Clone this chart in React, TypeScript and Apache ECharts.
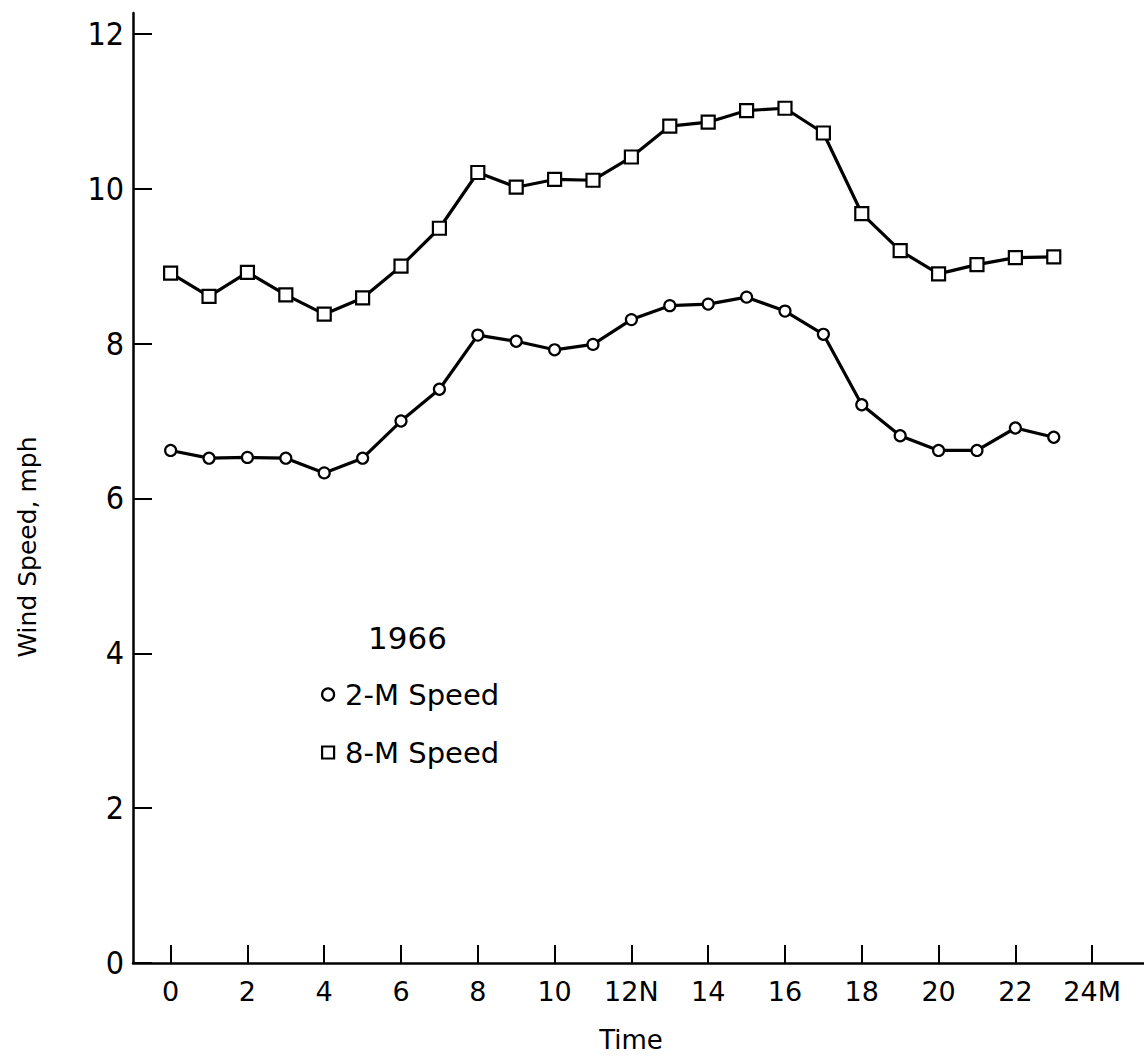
import React, { useEffect, useRef } from "react";
import * as echarts from "echarts";

const hours = [0, 1, 2, 3, 4, 5, 6, 7, 8, 9, 10, 11, 12, 13, 14, 15, 16, 17, 18, 19, 20, 21, 22, 23];
const speed2m = [6.62, 6.52, 6.53, 6.52, 6.33, 6.52, 7.0, 7.41, 8.11, 8.03, 7.92, 7.99, 8.31, 8.49, 8.51, 8.6, 8.42, 8.12, 7.21, 6.81, 6.62, 6.62, 6.91, 6.79];
const speed8m = [8.91, 8.61, 8.92, 8.63, 8.38, 8.59, 9.0, 9.49, 10.21, 10.02, 10.12, 10.11, 10.41, 10.81, 10.86, 11.01, 11.04, 10.72, 9.68, 9.2, 8.9, 9.02, 9.11, 9.12];
const xTicks = [0, 2, 4, 6, 8, 10, 12, 14, 16, 18, 20, 22, 24];
const xTickLabels: Record<number, string> = { 12: "12N", 24: "24M" };
const yTicks = [0, 2, 4, 6, 8, 10, 12];
const seriesNames = ["2-M Speed", "8-M Speed"];
const legendTitle = "1966";
const xTitle = "Time";
const yTitle = "Wind Speed, mph";

const FONT = "'DejaVu Sans', sans-serif";
const FONT_COND = "'DejaVu Sans Condensed', 'Liberation Sans Narrow', sans-serif";

export default function App() {
  const ref = useRef<HTMLDivElement>(null);
  useEffect(() => {
    if (!ref.current) return;
    const chart = echarts.init(ref.current, null, { renderer: "svg" });
    const markerStyle = { color: "#fff", borderColor: "#000", borderWidth: 2.2 };
    chart.setOption({
      animation: false,
      backgroundColor: "#fff",
      grid: { left: 133, top: 13, width: 1011, height: 950, containLabel: false },
      xAxis: {
        type: "value",
        min: -0.98,
        max: 25.35,
        splitLine: { show: false },
        axisLine: { show: true, onZero: false, lineStyle: { color: "#000", width: 2.5 } },
        axisTick: { show: true, inside: true, length: 18, customValues: xTicks, lineStyle: { color: "#000", width: 2 } },
        axisLabel: {
          customValues: xTicks,
          color: "#000",
          fontFamily: FONT,
          fontSize: 27,
          margin: 15,
          formatter: (v: number) => xTickLabels[v] ?? String(v),
        },
      },
      yAxis: {
        type: "value",
        min: 0,
        max: 12.27,
        splitLine: { show: false },
        axisLine: { show: true, onZero: false, lineStyle: { color: "#000", width: 2.5 } },
        axisTick: { show: true, inside: true, length: 19, customValues: yTicks, lineStyle: { color: "#000", width: 2 } },
        axisLabel: {
          customValues: yTicks,
          color: "#000",
          fontFamily: FONT_COND,
          fontSize: 32,
          margin: 9,
        },
      },
      legend: {
        orient: "vertical",
        left: 316,
        top: 674,
        itemWidth: 12,
        itemHeight: 12,
        itemGap: 27,
        textStyle: { color: "#000", fontFamily: FONT, fontSize: 29, lineHeight: 31, padding: [0, 0, 0, 6] },
        data: [
          { name: seriesNames[0], icon: "circle", itemStyle: markerStyle },
          { name: seriesNames[1], icon: "rect", itemStyle: markerStyle },
        ],
      },
      graphic: [
        {
          type: "text",
          left: 368,
          top: 622,
          style: { text: legendTitle, fill: "#000", font: `31px ${FONT}` },
        },
        {
          type: "text",
          x: 631,
          y: 1040,
          style: { text: xTitle, fill: "#000", font: `26px ${FONT}`, align: "center", verticalAlign: "middle" },
        },
        {
          type: "text",
          x: 27,
          y: 547,
          rotation: Math.PI / 2,
          style: { text: yTitle, fill: "#000", font: `25px ${FONT}`, align: "center", verticalAlign: "middle" },
        },
      ],
      series: [
        {
          name: seriesNames[0],
          type: "line",
          data: hours.map((h, i) => [h, speed2m[i]]),
          symbol: "circle",
          symbolSize: 11,
          itemStyle: markerStyle,
          lineStyle: { color: "#000", width: 3.2 },
        },
        {
          name: seriesNames[1],
          type: "line",
          data: hours.map((h, i) => [h, speed8m[i]]),
          symbol: "rect",
          symbolSize: 13,
          itemStyle: markerStyle,
          lineStyle: { color: "#000", width: 3.2 },
        },
      ],
    });
    return () => chart.dispose();
  }, []);
  return (
    <div
      ref={ref}
      style={{ position: "fixed", left: 0, top: 0, width: 1144, height: 1061, background: "#fff" }}
    />
  );
}
